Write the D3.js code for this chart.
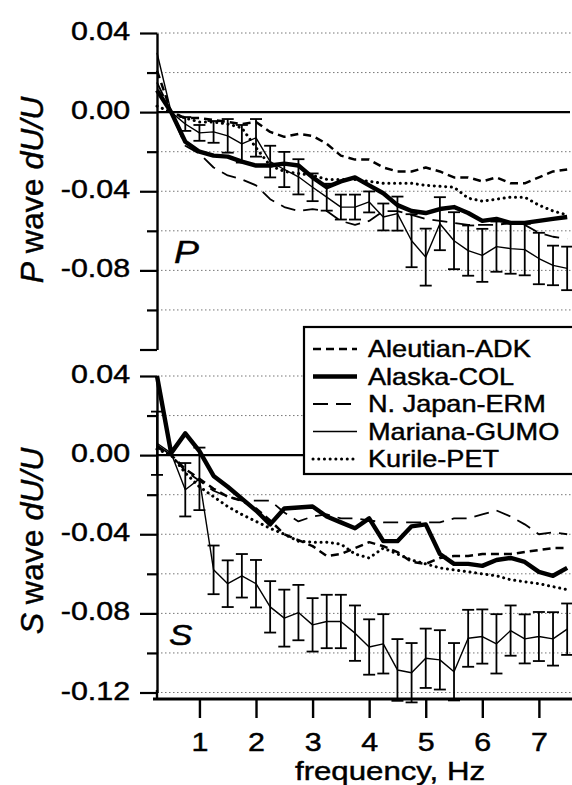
<!DOCTYPE html>
<html>
<head>
<meta charset="utf-8">
<script src="https://cdn.jsdelivr.net/npm/d3@7"></script>
<style>
  body { margin: 0; background: #fff; }
  text { font-family: "Liberation Sans", Arial, Helvetica, sans-serif; fill: #000; stroke: #000; stroke-width: 0.45; }
</style>
</head>
<body>
<div id="chart"></div>
<script>
var vWidth = 572;
var vHeight = 785;

// frequency samples, Hz
var freqs = [0.25, 0.5, 0.75, 1, 1.25, 1.5, 1.75, 2, 2.25, 2.5, 2.75, 3, 3.25, 3.5, 3.75,
             4, 4.25, 4.5, 4.75, 5, 5.25, 5.5, 5.75, 6, 6.25, 6.5, 6.75, 7, 7.25, 7.5];

var seriesNames = ["Aleutian-ADK", "Alaska-COL", "N. Japan-ERM", "Mariana-GUMO", "Kurile-PET"];

// P wave dU/U
var pADK  = [0.021, 0.000, -0.003, -0.003, -0.004, -0.005, -0.006, -0.005, -0.010, -0.0125, -0.011, -0.012, -0.016, -0.022, -0.024,
             -0.024, -0.028, -0.030, -0.030, -0.028, -0.030, -0.033, -0.033, -0.035, -0.033, -0.036, -0.036, -0.033, -0.030, -0.029];
var pCOL  = [0.011, 0.000, -0.015, -0.020, -0.022, -0.0225, -0.025, -0.027, -0.027, -0.026, -0.027, -0.033, -0.038, -0.035, -0.033,
             -0.037, -0.041, -0.047, -0.050, -0.051, -0.049, -0.048, -0.051, -0.055, -0.054, -0.056, -0.056, -0.055, -0.054, -0.053];
var pERM  = [0.015, 0.000, -0.017, -0.021, -0.028, -0.032, -0.034, -0.037, -0.044, -0.048, -0.050, -0.049, -0.050, -0.055, -0.057,
             -0.055, -0.050, -0.050, -0.052, -0.054, -0.055, -0.056, -0.057, -0.057, -0.057, -0.056, -0.057, -0.061, -0.063, -0.064];
var pGUMO = [0.030, 0.000, -0.006, -0.0105, -0.010, -0.012, -0.016, -0.013, -0.025, -0.029, -0.0327, -0.038, -0.043, -0.048, -0.048,
             -0.0454, -0.053, -0.0513, -0.065, -0.0733, -0.0564, -0.065, -0.070, -0.0724, -0.068, -0.069, -0.0695, -0.074, -0.0775, -0.079];
var pGUMOerr = [0, 0, 0.0035, 0.004, 0.0055, 0.0085, 0.0095, 0.0095, 0.008, 0.0089, 0.0089, 0.007, 0.0068, 0.0063, 0.0063,
                0.0053, 0.0068, 0.0086, 0.0134, 0.0144, 0.0134, 0.0144, 0.0127, 0.0134, 0.0127, 0.0127, 0.013, 0.013, 0.010, 0.011];
var pPET  = [0.003, 0.000, -0.003, -0.005, -0.005, -0.006, -0.008, -0.018, -0.027, -0.030, -0.031, -0.032, -0.034, -0.034, -0.034,
             -0.035, -0.036, -0.036, -0.036, -0.037, -0.0375, -0.038, -0.0435, -0.045, -0.044, -0.043, -0.043, -0.047, -0.050, -0.052];

// S wave dU/U
var sADK  = [0.004, 0.000, -0.007, -0.012, -0.017, -0.021, -0.023, -0.027, -0.033, -0.040, -0.043, -0.046, -0.051, -0.050, -0.047,
             -0.044, -0.046, -0.049, -0.054, -0.055, -0.052, -0.051, -0.051, -0.050, -0.050, -0.050, -0.049, -0.048, -0.047, -0.047];
var sCOL  = [0.040, 0.001, 0.011, 0.002, -0.0105, -0.016, -0.022, -0.028, -0.035, -0.027, -0.0265, -0.026, -0.031, -0.034, -0.037,
             -0.032, -0.0435, -0.0435, -0.036, -0.035, -0.050, -0.055, -0.055, -0.056, -0.053, -0.052, -0.054, -0.059, -0.061, -0.057];
var sERM  = [0.005, 0.000, -0.008, -0.013, -0.018, -0.021, -0.023, -0.023, -0.023, -0.029, -0.0335, -0.031, -0.030, -0.032, -0.032,
             -0.033, -0.034, -0.034, -0.034, -0.034, -0.034, -0.032, -0.032, -0.030, -0.028, -0.031, -0.035, -0.040, -0.039, -0.040];
var sGUMO = [0.006, 0.001, -0.0175, -0.012, -0.058, -0.065, -0.061, -0.065, -0.0767, -0.0824, -0.0796, -0.0858, -0.0841, -0.0841, -0.090,
             -0.097, -0.0954, -0.1086, -0.110, -0.1027, -0.1035, -0.1095, -0.0926, -0.0917, -0.0954, -0.0887, -0.0929, -0.0917, -0.0929, -0.088];
var sGUMOerr = [0.016, 0, 0.0135, 0.0158, 0.0123, 0.0118, 0.011, 0.012, 0.013, 0.0144, 0.014, 0.0135, 0.0135, 0.0135, 0.014,
                0.014, 0.015, 0.0156, 0.015, 0.015, 0.015, 0.0145, 0.0144, 0.0137, 0.015, 0.0127, 0.0124, 0.0124, 0.0135, 0.013];
var sPET  = [0.003, 0.000, -0.009, -0.016, -0.021, -0.026, -0.030, -0.0335, -0.037, -0.040, -0.0435, -0.044, -0.044, -0.045, -0.050,
             -0.052, -0.047, -0.050, -0.053, -0.055, -0.057, -0.058, -0.059, -0.060, -0.061, -0.063, -0.064, -0.065, -0.0665, -0.068];

// ticks
var yMajor = [0.04, 0.00, -0.04, -0.08, -0.12];
var yMinor = [0.02, -0.02, -0.06, -0.10];
var yGridTop = [0.04, 0.02, -0.02, -0.04, -0.06, -0.08, -0.10];
var yGridBottom = [0.04, 0.02, -0.02, -0.04, -0.06, -0.08, -0.10, -0.12];
var xTicks = [1, 2, 3, 4, 5, 6, 7];

// line styles for each station
var styles = {
    "Aleutian-ADK": { width: 2.5, dash: "8,5", cap: "butt" },
    "Alaska-COL":   { width: 4.4, dash: null, cap: "butt" },
    "N. Japan-ERM": { width: 1.8, dash: "15,8", cap: "butt" },
    "Mariana-GUMO": { width: 1.4, dash: null, cap: "butt" },
    "Kurile-PET":   { width: 3, dash: "0.1,5.6", cap: "round" }
};

var stretch = 1.17; // horizontal text stretch of the original lettering

var svg = d3.select("#chart")
    .append("svg")
    .attr("width", vWidth)
    .attr("height", vHeight);

var x = d3.scaleLinear().domain([0.25, 7.55]).range([157, 570]);

function fmt(v) {
    return (v < -1e-9 ? "-" : "") + Math.abs(v).toFixed(2);
}

function drawPanel(cfg) {
    var y = d3.scaleLinear().domain([-0.12, 0.04]).range([cfg.bottom, cfg.top]);
    var g = svg.append("g");

    // dotted grid
    g.selectAll("line.grid").data(cfg.grid).enter().append("line")
        .attr("x1", 157).attr("x2", 571)
        .attr("y1", d => y(d)).attr("y2", d => y(d))
        .attr("stroke", "#777").attr("stroke-width", 1)
        .attr("stroke-dasharray", "1.5,2.5");

    // zero line
    g.append("line")
        .attr("x1", 157).attr("x2", 570)
        .attr("y1", y(0)).attr("y2", y(0))
        .attr("stroke", "#000").attr("stroke-width", 2.2);

    var line = d3.line()
        .x(d => x(d.f))
        .y(d => y(d.v));

    seriesNames.forEach(function (name, i) {
        var vals = cfg.series[i];
        var pts = freqs.map((f, j) => ({ f: f, v: vals[j] }));
        var st = styles[name];
        g.append("path")
            .datum(pts)
            .attr("d", line)
            .attr("fill", "none")
            .attr("stroke", "#000")
            .attr("stroke-width", st.width)
            .attr("stroke-linecap", st.cap)
            .attr("stroke-linejoin", "round")
            .attr("stroke-dasharray", st.dash);
    });

    // error bars on Mariana-GUMO
    var eb = freqs.map((f, j) => ({ f: f, v: cfg.series[3][j], e: cfg.err[j] }))
        .filter(d => d.e > 0);
    var bars = g.selectAll("g.err").data(eb).enter().append("g")
        .attr("stroke", "#000").attr("stroke-width", 1.8);
    bars.append("line")
        .attr("x1", d => x(d.f)).attr("x2", d => x(d.f))
        .attr("y1", d => y(d.v + d.e)).attr("y2", d => y(d.v - d.e));
    bars.append("line")
        .attr("x1", d => x(d.f) - 6).attr("x2", d => x(d.f) + 6)
        .attr("y1", d => y(d.v + d.e)).attr("y2", d => y(d.v + d.e));
    bars.append("line")
        .attr("x1", d => x(d.f) - 6).attr("x2", d => x(d.f) + 6)
        .attr("y1", d => y(d.v - d.e)).attr("y2", d => y(d.v - d.e));

    // y axis: major ticks with labels
    var axMajor = g.append("g")
        .attr("transform", "translate(157,0)")
        .call(d3.axisLeft(y).tickValues(yMajor).tickSize(17).tickSizeOuter(0).tickPadding(6)
            .tickFormat(d => (cfg.hideLabel.indexOf(d) >= 0 ? "" : fmt(d))));
    axMajor.select(".domain").attr("stroke-width", 2.4);
    axMajor.selectAll(".tick line").attr("stroke-width", 2.2);
    axMajor.selectAll(".tick text")
        .attr("font-size", 26)
        .attr("font-family", "'Liberation Sans', Arial, sans-serif")
        .attr("dy", "0.25em")
        .attr("transform", "scale(" + stretch + ",1)");

    // minor ticks
    var axMinor = g.append("g")
        .attr("transform", "translate(157,0)")
        .call(d3.axisLeft(y).tickValues(yMinor).tickSize(10).tickSizeOuter(0).tickFormat(""));
    axMinor.select(".domain").remove();
    axMinor.selectAll(".tick line").attr("stroke-width", 2.2);

    // panel letter
    g.append("text")
        .attr("transform", "translate(" + cfg.letterX + "," + cfg.letterY + ") scale(" + stretch + ",1)")
        .attr("font-size", cfg.letterSize)
        .attr("font-style", "italic")
        .text(cfg.letter);

    // rotated y title
    var t = g.append("text")
        .attr("transform", "translate(43," + cfg.titleY + ") rotate(-90)")
        .attr("text-anchor", "middle")
        .attr("font-size", 32);
    t.append("tspan").attr("font-style", "italic").text(cfg.letter);
    t.append("tspan").text(" wave ");
    t.append("tspan").attr("font-style", "italic").text("dU/U");

    return y;
}

drawPanel({
    top: 33, bottom: 349.5,
    series: [pADK, pCOL, pERM, pGUMO, pPET], err: pGUMOerr,
    grid: yGridTop, hideLabel: [-0.12],
    letter: "P", letterX: 174, letterY: 263, letterSize: 32, titleY: 190
});

drawPanel({
    top: 376, bottom: 692.5,
    series: [sADK, sCOL, sERM, sGUMO, sPET], err: sGUMOerr,
    grid: yGridBottom, hideLabel: [],
    letter: "S", letterX: 169, letterY: 645, letterSize: 30, titleY: 541
});

// bottom y axis runs down to the x axis
svg.append("line")
    .attr("x1", 157).attr("x2", 157).attr("y1", 690).attr("y2", 699)
    .attr("stroke", "#000").attr("stroke-width", 2.4);

// x axis
var xAxis = svg.append("g")
    .attr("transform", "translate(0,699)")
    .call(d3.axisBottom(x).tickValues(xTicks).tickSize(19).tickSizeOuter(0).tickPadding(15)
        .tickFormat(d3.format("d")));
xAxis.select(".domain").remove();
xAxis.selectAll(".tick line").attr("stroke-width", 2.4);
xAxis.selectAll(".tick text")
    .attr("font-size", 26)
    .attr("font-family", "'Liberation Sans', Arial, sans-serif")
    .attr("transform", "scale(" + stretch + ",1)");
svg.append("line")
    .attr("x1", 153).attr("x2", 572).attr("y1", 699).attr("y2", 699)
    .attr("stroke", "#000").attr("stroke-width", 2.8);

svg.append("text")
    .attr("transform", "translate(390,780) scale(1.2,1)")
    .attr("text-anchor", "middle")
    .attr("font-size", 26)
    .text("frequency, Hz");

// legend
var legend = svg.append("g").attr("transform", "translate(304,327)");
legend.append("rect")
    .attr("x", 0).attr("y", 0).attr("width", 300).attr("height", 147)
    .attr("fill", "#fff").attr("stroke", "#000").attr("stroke-width", 2.2);

var rows = legend.selectAll("g.row").data(seriesNames).enter().append("g")
    .attr("transform", (d, i) => "translate(0," + (30 + i * 27.5) + ")");
rows.append("line")
    .attr("x1", 9).attr("x2", 53).attr("y1", -8).attr("y2", -8)
    .attr("stroke", "#000")
    .attr("stroke-width", d => styles[d].width)
    .attr("stroke-linecap", d => styles[d].cap)
    .attr("stroke-dasharray", d => styles[d].dash);
rows.append("text")
    .attr("transform", "translate(64,0) scale(1.13,1)")
    .attr("font-size", 24)
    .text(d => d);
</script>
</body>
</html>
